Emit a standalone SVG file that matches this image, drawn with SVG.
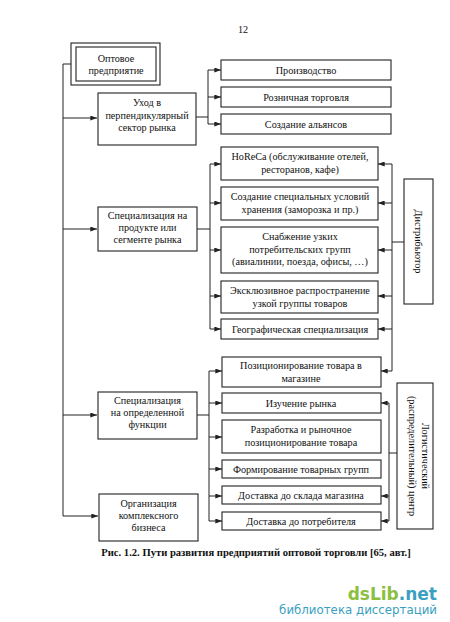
<svg xmlns="http://www.w3.org/2000/svg" width="450" height="622" viewBox="0 0 450 622">
<style>
.b{fill:#fff;stroke:#222;stroke-width:1.1}
.t{font-family:"Liberation Serif","Times New Roman",serif;font-size:10.2px;fill:#111;text-anchor:middle}
.c{fill:none;stroke:#222;stroke-width:1}
</style>
<defs>
<marker id="a" viewBox="0 0 8 6" refX="8" refY="3" markerWidth="7" markerHeight="5" orient="auto" markerUnits="userSpaceOnUse">
<path d="M0,0 L8,3 L0,6 Z" fill="#222"/>
</marker>
</defs>
<rect width="450" height="622" fill="#fff"/>
<text x="243" y="33" class="t">12</text>

<g id="connectors" class="c">
<path d="M71,64 H63 V516"/>
<path d="M63,118 H97" marker-end="url(#a)"/>
<path d="M63,229 H97" marker-end="url(#a)"/>
<path d="M63,415 H97" marker-end="url(#a)"/>
<path d="M63,516 H98" marker-end="url(#a)"/>
<path d="M196,117 H208 M208,70 V124"/>
<path d="M208,70 H221" marker-end="url(#a)"/>
<path d="M208,97 H221" marker-end="url(#a)"/>
<path d="M208,124 H221" marker-end="url(#a)"/>
<path d="M197,229 H210 M210,164 V329"/>
<path d="M210,164 H221" marker-end="url(#a)"/>
<path d="M210,203 H221" marker-end="url(#a)"/>
<path d="M210,250 H221" marker-end="url(#a)"/>
<path d="M210,296 H221" marker-end="url(#a)"/>
<path d="M210,329 H221" marker-end="url(#a)"/>
<path d="M392,164 V371 M392,242 H404"/>
<path d="M392,164 H378" marker-end="url(#a)"/>
<path d="M392,203 H378" marker-end="url(#a)"/>
<path d="M392,250 H378" marker-end="url(#a)"/>
<path d="M392,296 H378" marker-end="url(#a)"/>
<path d="M392,329 H378" marker-end="url(#a)"/>
<path d="M392,371 H381" marker-end="url(#a)"/>
<path d="M197,415 H209 M209,371 V521"/>
<path d="M209,371 H222" marker-end="url(#a)"/>
<path d="M209,403 H222" marker-end="url(#a)"/>
<path d="M209,437 H222" marker-end="url(#a)"/>
<path d="M209,469 H222" marker-end="url(#a)"/>
<path d="M209,496 H222" marker-end="url(#a)"/>
<path d="M209,521 H222" marker-end="url(#a)"/>
<path d="M389,403 V521 M389,453 H397"/>
<path d="M389,403 H381" marker-end="url(#a)"/>
<path d="M389,496 H381" marker-end="url(#a)"/>
<path d="M389,521 H381" marker-end="url(#a)"/>
</g>

<g id="n-opt">
<rect x="71" y="43" width="89" height="42" class="b" stroke-width="1.6"/>
<rect x="76" y="47" width="80" height="34" class="b"/>
<text class="t" x="116" y="62">Оптовое</text>
<text class="t" x="116" y="74">предприятие</text>
</g>

<g id="n-ukhod">
<rect x="98" y="93" width="98" height="52" class="b"/>
<text class="t" x="147" y="106">Уход в</text>
<text class="t" x="147" y="119">перпендикулярный</text>
<text class="t" x="147" y="131">сектор рынка</text>
</g>
<g id="n-proizv"><rect x="221" y="60" width="170" height="20" class="b"/><text class="t" x="306" y="73.5">Производство</text></g>
<g id="n-rozn"><rect x="221" y="87" width="170" height="20" class="b"/><text class="t" x="306" y="100.5">Розничная торговля</text></g>
<g id="n-alian"><rect x="221" y="114" width="170" height="20" class="b"/><text class="t" x="306" y="127.5">Создание альянсов</text></g>

<g id="n-spec-prod">
<rect x="98" y="207" width="99" height="44" class="b"/>
<text class="t" x="147.5" y="219">Специализация на</text>
<text class="t" x="147.5" y="231">продукте или</text>
<text class="t" x="147.5" y="243">сегменте рынка</text>
</g>
<g id="n-horeca"><rect x="221" y="147" width="157" height="33" class="b"/><text class="t" x="300" y="160">HoReCa (обслуживание отелей,</text><text class="t" x="300" y="173">ресторанов, кафе)</text></g>
<g id="n-hran"><rect x="221" y="187" width="157" height="33" class="b"/><text class="t" x="300" y="200">Создание специальных условий</text><text class="t" x="300" y="213">хранения (заморозка и пр.)</text></g>
<g id="n-snab"><rect x="221" y="227" width="157" height="46" class="b"/><text class="t" x="300" y="240">Снабжение узких</text><text class="t" x="300" y="252.5">потребительских групп</text><text class="t" x="300" y="265">(авиалинии, поезда, офисы, …)</text></g>
<g id="n-exkl"><rect x="221" y="281" width="157" height="32" class="b"/><text class="t" x="300" y="294">Эксклюзивное распространение</text><text class="t" x="300" y="307">узкой группы товаров</text></g>
<g id="n-geo"><rect x="221" y="319" width="157" height="20" class="b"/><text class="t" x="300" y="332.5">Географическая специализация</text></g>

<g id="n-distr">
<rect x="404" y="179" width="29" height="125" class="b"/>
<text class="t" transform="translate(415,241.5) rotate(90)">Дистрибьютор</text>
</g>

<g id="n-spec-func">
<rect x="98" y="392" width="99" height="47" class="b"/>
<text class="t" x="147.5" y="404">Специализация</text>
<text class="t" x="147.5" y="416">на определенной</text>
<text class="t" x="147.5" y="428">функции</text>
</g>
<g id="n-org">
<rect x="99" y="494" width="99" height="47" class="b"/>
<text class="t" x="148.5" y="507">Организация</text>
<text class="t" x="148.5" y="519">комплексного</text>
<text class="t" x="148.5" y="531">бизнеса</text>
</g>
<g id="n-poz"><rect x="222" y="357" width="159" height="30" class="b"/><text class="t" x="301" y="369">Позиционирование товара в</text><text class="t" x="301" y="382">магазине</text></g>
<g id="n-izuch"><rect x="222" y="393" width="159" height="20" class="b"/><text class="t" x="301" y="406.5">Изучение рынка</text></g>
<g id="n-razr"><rect x="222" y="420" width="159" height="33" class="b"/><text class="t" x="301" y="433">Разработка и рыночное</text><text class="t" x="301" y="446">позиционирование товара</text></g>
<g id="n-form"><rect x="222" y="460" width="159" height="18" class="b"/><text class="t" x="301" y="472.5">Формирование товарных групп</text></g>
<g id="n-sklad"><rect x="222" y="486" width="159" height="18" class="b"/><text class="t" x="301" y="498.5">Доставка до склада магазина</text></g>
<g id="n-potr"><rect x="222" y="512" width="159" height="18" class="b"/><text class="t" x="301" y="524.5">Доставка до потребителя</text></g>

<g id="n-log">
<rect x="397" y="383" width="36" height="146" class="b"/>
<text class="t" transform="translate(422,456) rotate(90)">Логистический</text>
<text class="t" transform="translate(409,456) rotate(90)">(распределительный) центр</text>
</g>

<text x="256" y="556" style="font-family:'Liberation Serif','Times New Roman',serif;font-size:10.6px;font-weight:bold;fill:#111;text-anchor:middle">Рис. 1.2. Пути развития предприятий оптовой торговли [65, авт.]</text>

<text x="437" y="600" style="font-family:'DejaVu Sans',sans-serif;font-size:17px;font-weight:bold;text-anchor:end"><tspan fill="#8cbf3f">dsLib</tspan><tspan fill="#3aa0c0">.net</tspan></text>
<text x="437" y="614" style="font-family:'DejaVu Sans',sans-serif;font-size:11.8px;fill:#3aa0c0;text-anchor:end">библиотека диссертаций</text>
</svg>
